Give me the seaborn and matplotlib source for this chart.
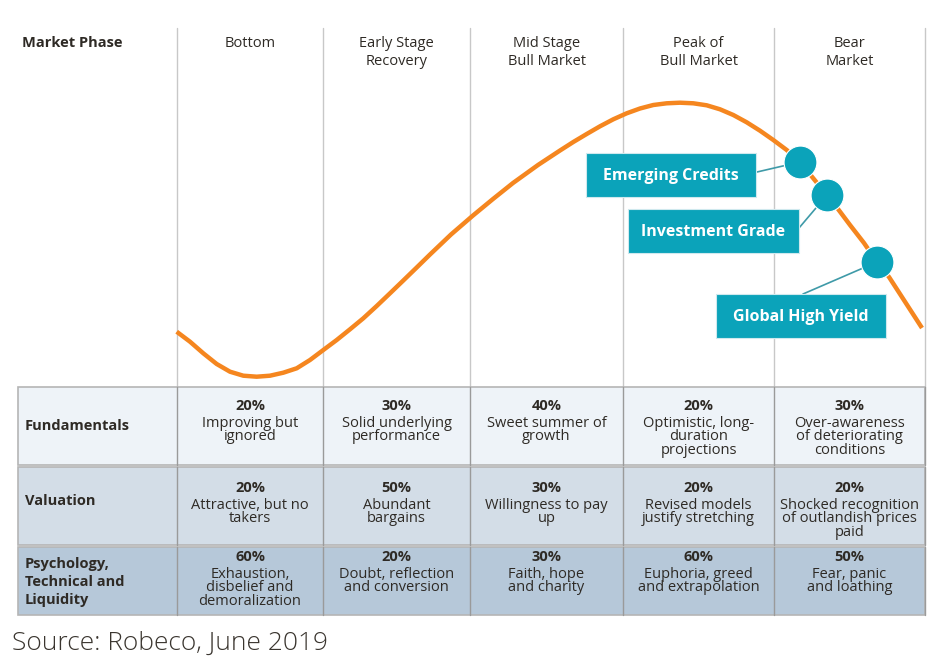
import matplotlib
matplotlib.use("Agg")
import matplotlib.pyplot as plt
import seaborn as sns
import pandas as pd
from matplotlib.patches import Rectangle

sns.set_theme(style="white")
plt.rcParams['font.family'] = ['Open Sans', 'DejaVu Sans']

# ---------------- data ----------------
phases = ["Bottom", "Early Stage\nRecovery", "Mid Stage\nBull Market",
          "Peak of\nBull Market", "Bear\nMarket"]
row_labels = ["Fundamentals", "Valuation", "Psychology,\nTechnical and\nLiquidity"]
fund_pct = ["20%", "30%", "40%", "20%", "30%"]
fund_txt = ["Improving but\nignored", "Solid underlying\nperformance",
            "Sweet summer of\ngrowth", "Optimistic, long-\nduration\nprojections",
            "Over-awareness\nof deteriorating\nconditions"]
val_pct = ["20%", "50%", "30%", "20%", "20%"]
val_txt = ["Attractive, but no\ntakers", "Abundant\nbargains",
           "Willingness to pay\nup", "Revised models\njustify stretching",
           "Shocked recognition\nof outlandish prices\npaid"]
psy_pct = ["60%", "20%", "30%", "60%", "50%"]
psy_txt = ["Exhaustion,\ndisbelief and\ndemoralization", "Doubt, reflection\nand conversion",
           "Faith, hope\nand charity", "Euphoria, greed\nand extrapolation",
           "Fear, panic\nand loathing"]

# market cycle curve (image coordinates)
curve_x = [176.7, 190, 203.3, 216.7, 230, 243.3, 256.7, 270, 283.3, 296.7, 310,
           323.3, 336.7, 350, 363.3, 376.7, 390, 403.3, 416.7, 430, 451, 473,
           493, 513, 538, 560, 573.3, 586.7, 600, 613.3, 626.7, 640, 653.3,
           666.7, 680, 693.3, 706.7, 720, 733.3, 746.7, 760, 773.3, 786.7,
           800, 813, 827, 838, 850, 864, 877, 889, 900, 911, 922]
curve_y = [331.7, 341.7, 353.3, 364, 371.7, 375.7, 376.7, 375.7, 372.7, 368.3, 360,
           350, 340, 329.3, 318.3, 306, 293.3, 280.5, 267.5, 254.5, 234.5, 215.5,
           199, 183, 165, 150.5, 142, 134, 126.3, 119.3, 113.3, 108.5, 105,
           103.3, 102.7, 103.3, 105.3, 109.3, 115, 122.3, 130.7, 140, 150,
           162, 178, 195, 209, 225, 243, 262, 277, 294, 311, 328]

bond_names = ["Emerging Credits", "Investment Grade", "Global High Yield"]
bond_x = [800, 827, 877]
bond_y = [162, 195, 262]

source = "Source: Robeco, June 2019"

# ---------------- layout ----------------
W, H = 952, 668
fig = plt.figure(figsize=(W / 100, H / 100), dpi=100)
ax = fig.add_axes([0, 0, 1, 1])

col_edges = [177, 323, 470, 623, 774, 925]
col_centers = [(a + b) / 2 for a, b in zip(col_edges[:-1], col_edges[1:])]
table_left = 18
row_tops = [387, 467, 547]
row_bots = [465, 545, 615]
row_colors = ["#eef3f8", "#d3dde7", "#b6c8d9"]
text_col = "#2e2a25"

# header grid lines
for x in col_edges:
    ax.plot([x, x], [28, 387], color="#c8c8c8", lw=1, zorder=1)

# table rows
for top, bot, c in zip(row_tops, row_bots, row_colors):
    ax.add_patch(Rectangle((table_left, top), col_edges[-1] - table_left, bot - top,
                           facecolor=c, edgecolor="#b5b5b5", lw=1.2, zorder=1))
    for x in col_edges:
        ax.plot([x, x], [top, bot], color="#9a9a9a", lw=1, zorder=2)

# header text
ax.text(22, 43, "Market Phase", ha="left", va="center", fontsize=10.5,
        fontweight="bold", color=text_col)
for cx, p in zip(col_centers, phases):
    ax.text(cx, 36, p, ha="center", va="top", fontsize=10.5, color=text_col,
            linespacing=1.3)

# row labels
ax.text(25, 426, row_labels[0], ha="left", va="center", fontsize=10.5,
        fontweight="bold", color=text_col)
ax.text(25, 501, row_labels[1], ha="left", va="center", fontsize=10.5,
        fontweight="bold", color=text_col)
ax.text(25, 582, row_labels[2], ha="left", va="center", fontsize=10.5,
        fontweight="bold", color=text_col, linespacing=1.35)

# table cells
for pcts, txts, y0 in [(fund_pct, fund_txt, 406), (val_pct, val_txt, 488),
                       (psy_pct, psy_txt, 557)]:
    for cx, p, t in zip(col_centers, pcts, txts):
        ax.text(cx, y0, p, ha="center", va="center", fontsize=10.5,
                fontweight="bold", color=text_col)
        ax.text(cx, y0 + 10, t, ha="center", va="top", fontsize=10.5,
                color=text_col, linespacing=0.85)

# curve
curve = pd.DataFrame({"x": curve_x, "y": curve_y})
sns.lineplot(data=curve, x="x", y="y", sort=False, color="#f5861f", lw=3.2,
             ax=ax, zorder=3, estimator=None, solid_joinstyle="round",
             solid_capstyle="butt")

# labels & connectors
teal = "#0ba3ba"
boxes = [(586, 153, 170, 44), (628, 209, 171, 44), (716, 294, 170, 44)]
anchors = [(757, 172), (799, 228), (803, 294)]
for (bx, by, bw, bh), (axx, ayy), bxd, byd, name in zip(boxes, anchors, bond_x, bond_y, bond_names):
    ax.plot([axx, bxd], [ayy, byd], color="#3f9aa8", lw=1.2, zorder=4)
    ax.add_patch(Rectangle((bx, by), bw, bh, facecolor=teal, edgecolor="#cfe9ee",
                           lw=0.8, zorder=5))
    ax.text(bx + bw / 2, by + bh / 2 + 1, name, ha="center", va="center",
            fontsize=11.5, fontweight="bold", color="white", zorder=6)

bonds = pd.DataFrame({"x": bond_x, "y": bond_y})
sns.scatterplot(data=bonds, x="x", y="y", s=560, color=teal, edgecolor="white",
                linewidth=0.8, ax=ax, zorder=7, legend=False)

ax.set_xlim(0, W)
ax.set_ylim(H, 0)
ax.axis("off")

ax.text(12, 643, source, ha="left", va="center", fontsize=19, color="#3a352f",
        fontweight="light")

fig.savefig("out.png", dpi=100)
